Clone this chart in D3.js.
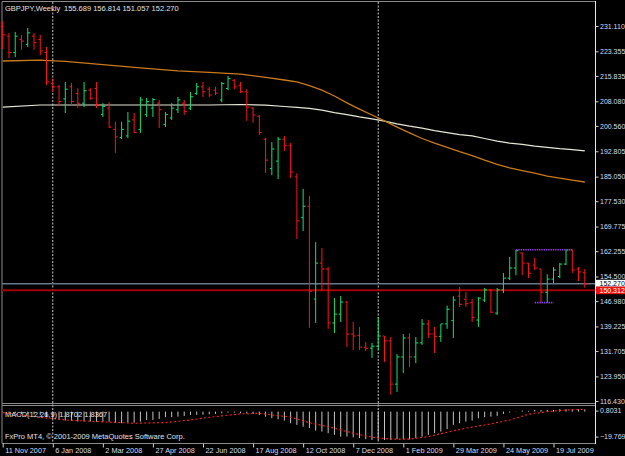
<!DOCTYPE html>
<html>
<head>
<meta charset="utf-8">
<script src="https://cdn.jsdelivr.net/npm/d3@7"></script>
<style>
  body { margin: 0; background: #000; }
  svg { display: block; font-family: "Liberation Sans", Arial, sans-serif; }
</style>
</head>
<body>
<svg id="chart" width="625" height="456"></svg>
<script>
// weekly GBPJPY bars, 11 Nov 2007 .. 23 Aug 2009
const opens  = [231.0,228.0,223.0,227.0,225.5,228.0,227.0,223.0,213.5,212.5,208.8,212.5,210.5,207.5,211.5,212.0,204.0,206.0,199.5,197.0,
                197.5,202.4,199.5,204.0,206.0,207.5,201.0,203.0,205.5,207.5,206.0,210.5,212.5,211.8,211.5,208.5,212.0,214.5,213.0,211.0,
                206.0,203.5,196.5,187.5,189.8,196.5,194.5,185.0,172.5,176.0,147.6,158.6,156.8,140.3,143.0,146.7,136.9,136.5,132.9,132.6,
                133.2,136.3,134.8,121.6,129.9,135.7,129.9,134.2,140.0,136.9,136.2,140.0,141.0,148.5,147.5,146.5,141.2,147.3,150.4,143.3,
                150.4,154.0,157.1,161.7,158.6,158.0,156.8,149.7,153.7,154.5,158.3,162.6,156.8,155.689];
const highs  = [232.6,229.0,229.3,228.4,230.5,229.0,228.4,224.7,215.0,213.1,214.0,213.7,212.1,214.0,212.1,214.0,207.5,207.8,201.8,201.8,
                204.8,204.5,209.4,209.1,209.1,208.5,204.8,207.5,209.4,208.5,210.9,213.7,214.0,212.5,212.5,214.0,215.8,214.9,214.0,211.8,
                206.3,203.9,196.9,195.6,197.2,197.5,195.3,186.1,181.3,179.1,165.0,163.2,157.4,147.9,148.5,147.0,140.6,139.1,134.5,134.2,
                142.1,136.3,136.0,130.8,136.9,137.2,136.0,141.5,141.2,139.1,140.0,145.6,148.5,151.3,149.7,147.6,148.2,151.0,150.7,151.0,
                155.6,160.5,162.7,161.9,158.6,160.2,156.8,155.2,157.4,158.6,162.7,162.7,157.4,156.814];
const lows   = [224.1,221.3,221.6,223.8,224.7,223.8,222.2,213.1,211.0,206.9,204.5,207.0,206.0,206.3,208.5,206.0,203.3,199.9,192.3,196.5,
                196.8,198.4,198.4,203.3,203.3,199.9,200.2,202.4,204.5,203.9,205.4,210.0,209.4,209.4,210.0,207.8,211.5,211.8,210.6,202.1,
                201.5,197.8,186.1,185.5,184.3,192.9,184.6,166.0,168.4,138.8,140.3,150.1,138.5,137.2,140.6,132.9,132.0,132.0,131.7,129.6,
                132.0,128.4,118.3,119.2,125.0,126.8,128.0,133.6,135.7,131.1,134.5,138.5,135.7,145.2,145.2,140.6,139.1,146.7,143.3,142.7,
                149.4,153.4,154.9,154.9,154.0,156.5,146.4,146.4,152.5,154.0,158.0,155.6,153.1,151.057];
const closes = [228.4,223.0,228.0,226.5,229.0,226.0,223.5,214.0,212.5,208.0,211.8,208.0,207.5,211.3,209.0,207.0,206.5,200.2,197.2,199.5,
                202.0,198.5,208.5,208.0,208.6,205.5,204.0,206.0,208.5,205.0,209.5,212.5,211.0,210.0,210.6,213.5,215.0,212.5,211.0,206.3,
                203.9,198.5,190.1,193.5,196.5,194.5,186.5,171.5,176.0,150.0,158.6,156.8,140.3,143.0,146.7,136.9,136.3,132.9,132.5,133.2,
                136.3,134.8,121.6,129.9,135.7,129.9,134.2,140.0,136.9,136.2,140.0,144.5,147.3,146.0,146.2,142.0,147.9,150.4,143.6,150.4,
                154.0,157.1,162.4,158.6,155.5,157.1,149.7,153.7,156.5,158.3,162.6,156.5,155.9,152.270];

// moving averages, read at these bar indices
const maIdx    = [0,6,10,16,22,28,33,38,42,45,47,49,51,53,55,57,59,61,63,65,67,69,71,73,75,77,79,81,83,85,87,89,91,93];
const maOrange = [220.4,220.7,220.3,219.3,218.3,217.4,216.9,216.4,215.4,214.6,214.0,212.9,211.5,209.7,207.6,205.7,203.9,202.1,200.2,198.4,
                  196.7,195.3,194.0,192.7,191.5,190.1,188.8,187.7,186.9,186.1,185.2,184.6,184.0,183.4];
const maWhite  = [206.3,206.95,206.95,206.95,206.95,206.95,206.95,207.1,206.9,206.5,206.2,205.9,205.4,204.6,204.0,203.3,202.7,202.0,201.2,200.5,
                  199.9,199.1,198.5,197.9,197.5,196.7,195.9,195.3,194.9,194.4,194.0,193.6,193.3,192.9];

// MACD(12,26,9) main values, one per bar
const macd = [-0.2,-1.0,-1.4,-1.8,-1.8,-2.2,-2.6,-4.2,-5.8,-6.6,-7.0,-7.4,-7.8,-7.8,-7.8,-8.1,-8.1,-7.9,-8.7,-9.2,
              -8.7,-8.7,-7.9,-6.6,-6.6,-5.8,-4.4,-4.4,-4.0,-3.4,-2.6,-2.6,-2.4,-2.1,-1.8,-1.3,-0.8,-0.8,-1.3,-1.3,
              -1.8,-2.6,-4.0,-5.2,-6.0,-7.1,-9.2,-10.5,-11.9,-13.1,-15.0,-15.8,-17.1,-18.4,-19.8,-19.8,-20.3,-21.0,-21.8,-22.4,
              -22.4,-22.4,-22.4,-21.8,-21.8,-22.0,-21.0,-19.8,-18.4,-17.1,-15.8,-13.9,-10.5,-9.2,-7.9,-7.1,-5.2,-4.4,-4.0,-3.4,
              -1.8,-0.8,-0.2,0.8,0.6,1.3,1.3,1.3,1.3,1.9,1.9,1.9,1.9,1.8702];
const sigIdx = [0,5,10,16,21,26,30,32,35,38,41,43,46,49,53,56,59,62,65,68,71,74,78,81,84,87,90,93];
const sigVal = [-0.8,-4.0,-6.6,-8.1,-9.2,-8.7,-6.6,-5.2,-3.4,-1.8,-1.3,-2.6,-4.4,-8.7,-13.1,-17.1,-20.3,-21.8,-21.8,-19.8,
                -16.3,-13.1,-9.7,-6.6,-2.1,0.0,1.3,1.8367];

const priceTicks = [231.110,223.355,215.835,208.080,200.560,192.805,185.050,177.530,169.775,162.255,154.500,146.980,139.225,131.705,123.950,116.430];
const dateIdx    = [0,8,16,24,32,40,48,56,64,72,80,88];
const dateLabels = ["11 Nov 2007","6 Jan 2008","2 Mar 2008","27 Apr 2008","22 Jun 2008","17 Aug 2008",
                    "12 Oct 2008","7 Dec 2008","1 Feb 2009","29 Mar 2009","24 May 2009","19 Jul 2009"];
const vLines = [8, 60];
const bidPrice = 152.270, alertPrice = 150.312;
const purple = [{from: 82, to: 91, price: 162.7}, {from: 85, to: 88, price: 146.5}];

const svg = d3.select("#chart");
const right = 595.5;
svg.append("rect").attr("width", 625).attr("height", 456).attr("fill", "#000");

const x = d3.scaleLinear().domain([0, 93]).range([2.7, 584.8]);
const y = d3.scaleLinear().domain([116.43, 231.11]).range([401, 26]);
const ym = d3.scaleLinear().domain([-19.7699, 0.8031]).range([436.6, 410.6]);

// frame
const frame = [[2, 1.5, right, 1.5], [2, 403.5, right, 403.5], [2, 405.5, right, 405.5], [2, 443.5, right, 443.5], [2, 1.5, 2, 443.5]];
svg.selectAll("line.frame").data(frame).enter().append("line")
  .attr("x1", d => d[0]).attr("y1", d => d[1]).attr("x2", d => d[2]).attr("y2", d => d[3])
  .attr("stroke", "#8a8a8a");

// dotted period separators
svg.selectAll("line.sep").data(vLines).enter().append("line")
  .attr("x1", d => x(d)).attr("x2", d => x(d)).attr("y1", 2).attr("y2", 443)
  .attr("stroke", "#c8c8c8").attr("stroke-dasharray", "2,1.5");

// moving averages
const maLine = vals => d3.line().x((d, i) => x(maIdx[i])).y(d => y(d))(vals);
svg.append("path").attr("d", maLine(maWhite)).attr("fill", "none").attr("stroke", "#e6e6d6").attr("stroke-width", 1.2);
svg.append("path").attr("d", maLine(maOrange)).attr("fill", "none").attr("stroke", "#c87a1c").attr("stroke-width", 1.3);

// bid and alert lines
svg.append("line").attr("x1", 2).attr("x2", right).attr("y1", y(bidPrice)).attr("y2", y(bidPrice))
  .attr("stroke", "#66788a").attr("stroke-width", 1.4);
svg.append("line").attr("x1", 2).attr("x2", right).attr("y1", y(alertPrice)).attr("y2", y(alertPrice))
  .attr("stroke", "#a00000").attr("stroke-width", 2);

// OHLC bars
const bars = svg.append("g");
opens.forEach((o, i) => {
  const col = closes[i] >= o ? "#12e070" : "#ff1414";
  const cx = x(i);
  const g = bars.append("g").attr("stroke", col);
  g.append("line").attr("x1", cx).attr("x2", cx).attr("y1", y(highs[i])).attr("y2", y(lows[i]));
  g.append("line").attr("x1", cx - 2).attr("x2", cx).attr("y1", y(o)).attr("y2", y(o));
  g.append("line").attr("x1", cx).attr("x2", cx + 2.5).attr("y1", y(closes[i])).attr("y2", y(closes[i]));
});

// purple trend lines
svg.selectAll("line.purple").data(purple).enter().append("line")
  .attr("x1", d => x(d.from)).attr("x2", d => x(d.to)).attr("y1", d => y(d.price)).attr("y2", d => y(d.price))
  .attr("stroke", "#8a3cd0").attr("stroke-width", 1.6).attr("stroke-dasharray", "1.5,0.8");

// price axis
const yAxis = d3.axisRight(y).tickValues(priceTicks).tickSize(3).tickPadding(1.5).tickFormat(d3.format(".3f"));
const ya = svg.append("g").attr("transform", "translate(" + right + ",0)").call(yAxis);
ya.select(".domain").remove();
ya.selectAll("line").attr("stroke", "#d0d0d0");
ya.selectAll("text").attr("fill", "#d6dcea").attr("font-size", "7px").attr("font-family", "Liberation Sans, Arial");

svg.append("line").attr("x1", right).attr("x2", right).attr("y1", 1).attr("y2", 444).attr("stroke", "#e8e8e8");

// price boxes
svg.append("rect").attr("x", right + 0.5).attr("y", y(bidPrice) - 4).attr("width", 30).attr("height", 7).attr("fill", "#fff");
svg.append("text").attr("x", 599.5).attr("y", y(bidPrice) + 2.5).attr("font-size", "7px").attr("fill", "#000").text(bidPrice.toFixed(3));
svg.append("rect").attr("x", right + 0.5).attr("y", y(alertPrice) - 3.6).attr("width", 30).attr("height", 7.6).attr("fill", "#ee1010");
svg.append("text").attr("x", 599.5).attr("y", y(alertPrice) + 2.8).attr("font-size", "7px").attr("fill", "#fff").text(alertPrice.toFixed(3));

// MACD histogram
svg.append("g").selectAll("line").data(macd).enter().append("line")
  .attr("x1", (d, i) => x(i)).attr("x2", (d, i) => x(i))
  .attr("y1", ym(0)).attr("y2", d => ym(d))
  .attr("stroke", "#c4c4c4");
svg.append("path")
  .attr("d", d3.line().x((d, i) => x(sigIdx[i])).y(d => ym(d))(sigVal))
  .attr("fill", "none").attr("stroke", "#ff2020").attr("stroke-width", 1.1).attr("stroke-dasharray", "2,2.3");

const macdTicks = [0.8031, -19.7699];
const ma = svg.append("g").attr("transform", "translate(" + right + ",0)")
  .call(d3.axisRight(ym).tickValues(macdTicks).tickSize(3).tickPadding(1.5).tickFormat(d3.format(".4f")));
ma.select(".domain").remove();
ma.selectAll("line").attr("stroke", "#d0d0d0");
ma.selectAll("text").attr("fill", "#d6dcea").attr("font-size", "7px").attr("font-family", "Liberation Sans, Arial");

// date axis
const xa = svg.append("g").attr("transform", "translate(0,443.5)")
  .call(d3.axisBottom(x).tickValues(dateIdx).tickSize(4).tickFormat((d, i) => dateLabels[i]));
xa.select(".domain").remove();
xa.selectAll("line").attr("stroke", "#d0d0d0");
xa.selectAll("text").attr("text-anchor", "start").attr("dx", 2).attr("y", 9).attr("dy", 0)
  .attr("fill", "#d6dcea").attr("font-size", "7.3px").attr("font-family", "Liberation Sans, Arial");

// captions
const cap = (tx, ty, s) => svg.append("text").attr("x", tx).attr("y", ty)
  .attr("font-size", "7.5px").attr("fill", "#e0e0e0").text(s);
cap(5, 10.5, "GBPJPY,Weekly");
cap(64, 10.5, "155.689 156.814 151.057 152.270");
cap(5, 416.5, "MACD(12,26,9) 1.8702 1.8367");
cap(5, 438.5, "FxPro MT4, \u00a9 2001-2009 MetaQuotes Software Corp.");
</script>
</body>
</html>
